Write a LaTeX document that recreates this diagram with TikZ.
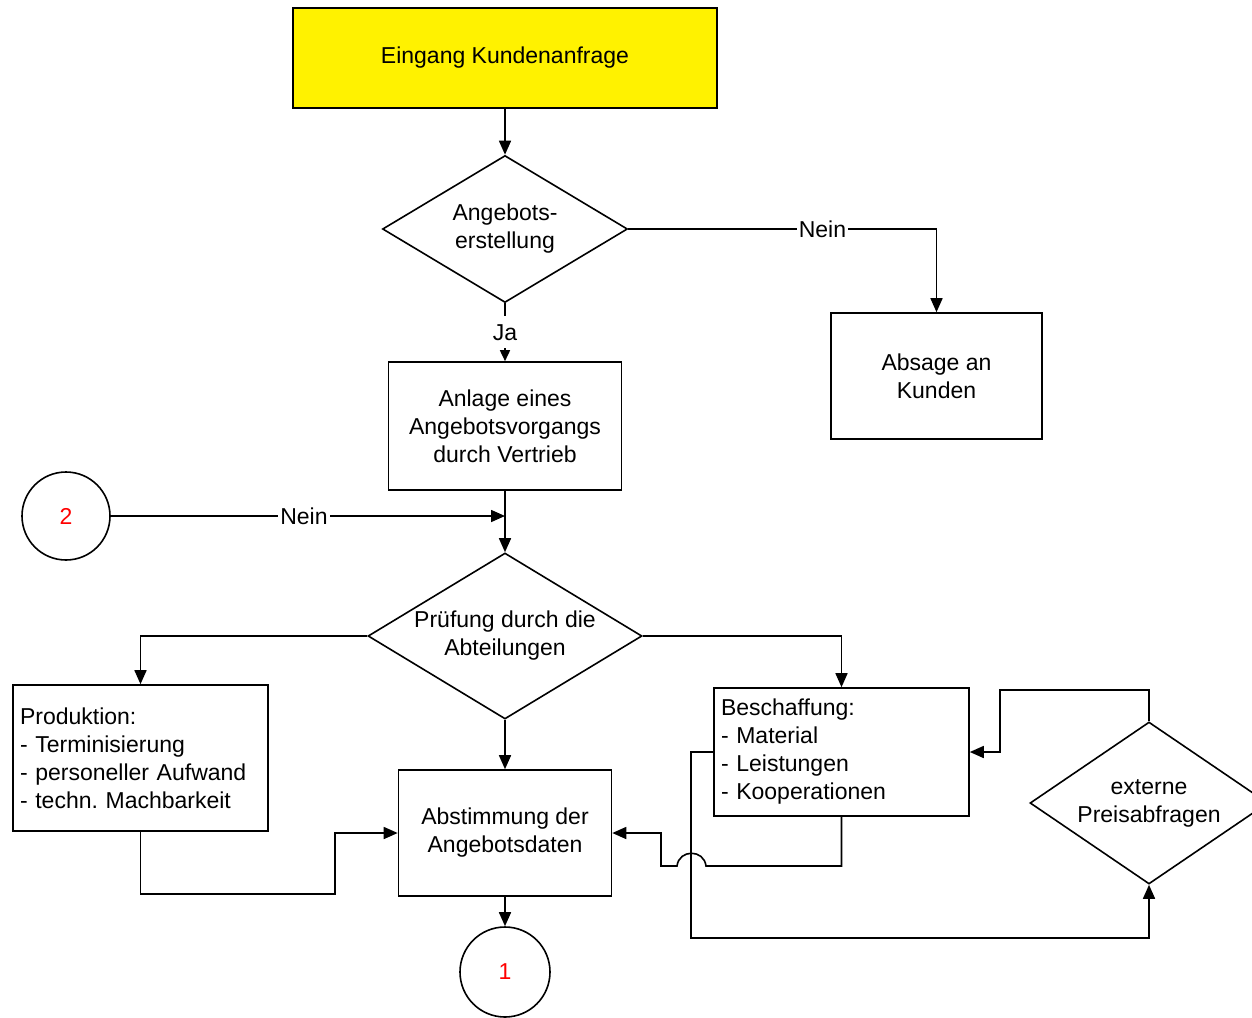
\documentclass[tikz,border=0pt]{standalone}
\usepackage{fontspec}
\setmainfont{Liberation Sans}
\usepackage{xcolor}
\usetikzlibrary{shapes.geometric,arrows.meta,calc}
\frenchspacing

\begin{document}
\begin{tikzpicture}[x=0.5pt, y=-0.5pt,
  every node/.style={font=\fontsize{11.5}{14}\selectfont, line width=0.8pt},
  box/.style={draw, rectangle, inner sep=3.5pt, align=center},
  decide/.style={draw, diamond, inner sep=0pt, align=center},
  conn/.style={draw, circle, inner sep=0pt, text=red},
  lbl/.style={fill=white, inner sep=1pt},
  flow/.style={line width=0.8pt, -{Triangle[length=7pt,width=6pt]}},
  line/.style={line width=0.8pt}]
  \useasboundingbox (0,0) rectangle (1252,1017);
  \clip (0,0) rectangle (1252,1017);
  \node[box, fill=yellow, minimum width=212pt, minimum height=50pt] (eingang) at (505,58) {Eingang Kundenanfrage};
  \node[decide, aspect=1.67, minimum width=122.5pt, minimum height=73.5pt] (angebot) at (505,229) {Angebots-\\erstellung};
  \node[box, minimum width=105.5pt, minimum height=63pt] (absage) at (936.5,376) {Absage an\\Kunden};
  \node[box, minimum width=116.5pt, minimum height=64pt] (anlage) at (505,426) {Anlage eines\\Angebotsvorgangs\\durch Vertrieb};
  \node[conn, minimum size=44pt] (k2) at (66,516) {2};
  \node[decide, aspect=1.65, minimum width=137pt, minimum height=83pt] (pruefung) at (505,636) {Prüfung durch die\\Abteilungen};
  \node[box, align=left, text width=120.5pt, minimum height=73pt] (produktion) at (140.5,758) {Produktion:\\- Terminisierung\\- personeller Aufwand\\- techn. Machbarkeit};
  \node[box, align=left, text width=120.5pt, minimum height=64pt] (beschaffung) at (841.5,752) {Beschaffung:\\- Material\\- Leistungen\\- Kooperationen};
  \node[box, minimum width=106.5pt, minimum height=63pt] (abstimmung) at (505,833) {Abstimmung der\\Angebotsdaten};
  \node[decide, aspect=1.47, minimum width=119pt, minimum height=81pt] (externe) at (1149,803) {externe\\Preisabfragen};
  \node[conn, minimum size=45pt] (k1) at (505,972) {1};

  \draw[flow] (eingang) -- (angebot.north);
  \draw[flow] (angebot.east) -- node[lbl, pos=0.63] {Nein} (angebot.east -| absage.north) -- (absage.north);
  \draw[line, -{Triangle[length=5.5pt,width=5pt]}] (angebot.south) -- node[lbl, minimum height=16pt] {Ja} (anlage.north);
  \draw[flow] (anlage.south) -- (pruefung.north);
  \draw[flow] (k2.east) -- node[lbl, pos=0.49] {Nein} (k2.east -| pruefung.north);
  \draw[flow] (pruefung.west) -| (produktion.north);
  \draw[flow] (pruefung.east) -| (beschaffung.north);
  \draw[flow] (pruefung.south) -- (abstimmung.north);
  \draw[flow] (produktion.south) |- (335,894) |- (abstimmung.west);
  \draw[flow] (beschaffung.south) |- (706,866) .. controls (704,849) and (679,849) .. (677,866) -- (661,866) |- (abstimmung.east);
  \draw[flow] (beschaffung.west) -| (691,938) -| (externe.south);
  \draw[flow] (externe.north) |- (1000,690) |- (beschaffung.east);
  \draw[flow] (abstimmung.south) -- (k1.north);
\end{tikzpicture}
\end{document}
